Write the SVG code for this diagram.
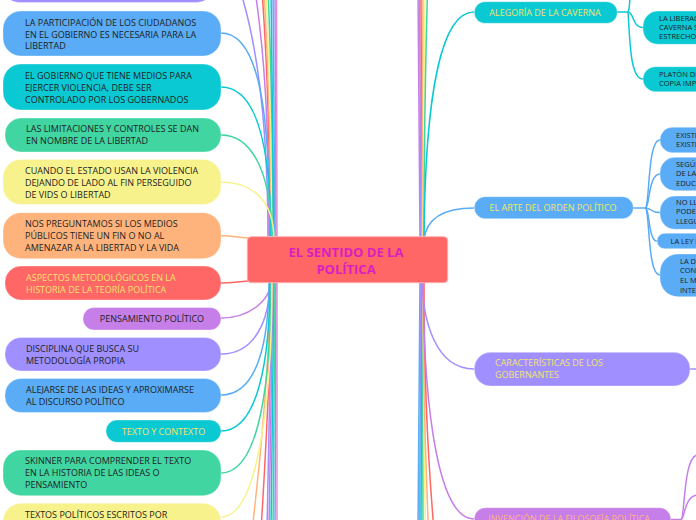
<svg xmlns="http://www.w3.org/2000/svg" width="696" height="520" viewBox="0 0 696 520">
<style>
text{font-family:"Open Sans","Noto Sans","DejaVu Sans",sans-serif;font-size:9px;fill:#1e1e1e}
.s{font-size:7.5px}
.y{fill:#f2e46c}
.o{fill:#ffb47c}
.c{font-size:13px;font-weight:bold;fill:#d91ec2;text-anchor:middle}
.m{text-anchor:middle}
.n{stroke:#ffffff;stroke-opacity:.35;stroke-width:1}
.lav{fill:#9f8fff}.blu{fill:#59acf5}.tea{fill:#0bc9d3}.gre{fill:#41d5a2}.yel{fill:#f8f28d}.ora{fill:#ffb37c}.red{fill:#ff6666}.pur{fill:#c67ee8}
#links path{fill:none;stroke-width:1.5}
.Llav{stroke:#9f8fff}.Lblu{stroke:#59acf5}.Ltea{stroke:#0bc9d3}.Lgre{stroke:#41d5a2}.Lyel{stroke:#f8f28d}.Lora{stroke:#ffb37c}.Lred{stroke:#ff6666}.Lpur{stroke:#c67ee8}.Lpin{stroke:#e58fd0}
</style>
<rect width="696" height="520" fill="#ffffff"/>
<g id="links">
<path class="Llav" d="M240,-10 C256,40 268,120 268,240"/>
<path class="Lpur" d="M255,-10 C264,50 269,120 269,240"/>
<path class="Lred" d="M262,-10 C267,60 270,140 270,240"/>
<path class="Lora" d="M264,-10 C268,60 271,140 271,240"/>
<path class="Lyel" d="M266,-10 C269,60 272,140 272,240"/>
<path class="Lgre" d="M268,-10 C271,60 273,140 273,240"/>
<path class="Ltea" d="M271,-10 L274,240"/>
<path class="Lblu" d="M273,-10 L275,240"/>
<path class="Llav" d="M275,-10 L276,240"/>
<path class="Lpin" d="M276.5,-10 L277,240"/>
<path class="Lora" d="M252,530 C262,450 270,350 270,280"/>
<path class="Lred" d="M261,530 C266,450 271,350 271,280"/>
<path class="Llav" d="M267,530 L272,280"/>
<path class="Lpur" d="M269,530 L273,280"/>
<path class="Ltea" d="M271,530 L274,280"/>
<path class="Lgre" d="M273,530 L275,280"/>
<path class="Lblu" d="M275,530 L276,280"/>
<path class="Lpin" d="M277,530 L277,280"/>
<path class="Lblu" d="M221,33 C261,33 270,120 270,240"/>
<path class="Ltea" d="M221,87 C258,87 271,150 271,240"/>
<path class="Lgre" d="M221,135 C255,135 272,180 272,240"/>
<path class="Lyel" d="M221,182 C252,182 274,200 274,240"/>
<path class="Lora" d="M221,235.7 C235,235.7 240,238 252,238"/>
<path class="Lred" d="M221,283 C235,283 240,281 252,281"/>
<path class="Lpur" d="M221,318 C250,318 271,300 271,280"/>
<path class="Llav" d="M221,354 C255,354 270,320 270,280"/>
<path class="Lblu" d="M221,395 C258,395 269,340 269,280"/>
<path class="Ltea" d="M221,431 C258,431 270,360 270,280"/>
<path class="Lgre" d="M221,473 C260,473 271,380 271,280"/>
<path class="Lyel" d="M221,517 C258,517 272,400 272,280"/>
<path class="Lpur" d="M418,-10 L420,240"/>
<path class="Llav" d="M419.5,-10 L421,240"/>
<path class="Lred" d="M421,-10 L422,240"/>
<path class="Lora" d="M423,-10 C423,80 422,160 422,240"/>
<path class="Lyel" d="M425,-10 C424,80 423,160 423,240"/>
<path class="Lgre" d="M427.5,-10 C425,80 424,160 424,240"/>
<path class="Lblu" d="M418,530 L420,280"/>
<path class="Llav" d="M419.5,530 L421,280"/>
<path class="Ltea" d="M421,530 L422,280"/>
<path class="Lgre" d="M423,530 L422.5,280"/>
<path class="Lyel" d="M425.5,530 C424,450 423,350 423,280"/>
<path class="Lora" d="M428.5,530 C425,450 423,350 423,280"/>
<path class="Lred" d="M434,530 C427,450 424,350 424,280"/>
<path class="Ltea" d="M474,12 C440,12 425,100 424,240"/>
<path class="Lblu" d="M474,208 C440,208 426,220 424,240"/>
<path class="Llav" d="M474,369 C435,369 423,320 422,280"/>
<path class="Lpur" d="M474,519 C440,519 424,420 423,280"/>
<path class="Ltea" d="M617,12 L628,12"/>
<path class="Ltea" d="M628,12 C630,8 630,2 630,-10"/>
<path class="Ltea" d="M628,12 C634,12 632,27.5 643,27.5"/>
<path class="Ltea" d="M628,12 C630,40 630,79 643,79"/>
<path class="Lblu" d="M633,208 L645,208"/>
<path class="Lblu" d="M645,208 C650,208 647,140 660,140"/>
<path class="Lblu" d="M645,208 C650,208 648,174 660,174"/>
<path class="Lblu" d="M645,208 C652,208 650,212.6 660,212.6"/>
<path class="Lblu" d="M645,208 C650,208 648,241 657,241"/>
<path class="Lblu" d="M645,208 C650,208 647,275 660,275"/>
<path class="Llav" d="M690,369 L700,369"/>
<path class="Lpur" d="M670,519.5 L681,519.5"/>
<path class="Lpur" d="M681,519.5 C685,519 683,455 698,455"/>
<path class="Lpur" d="M681,519.5 C685,519 684,495 698,495"/>
</g>

<g id="n-top"><rect class="n lav" x="3" y="-40" width="210" height="42.5" rx="16"/></g>
<g id="n-participacion"><rect class="n blu" x="3" y="11" width="218" height="45" rx="18"/>
<text x="25" y="26">LA PARTICIPACIÓN DE LOS CIUDADANOS</text><text x="25" y="37.5">EN EL GOBIERNO ES NECESARIA PARA LA</text><text x="25" y="49">LIBERTAD</text></g>
<g id="n-gobierno"><rect class="n tea" x="3" y="64" width="218" height="46" rx="18"/>
<text x="25" y="79">EL GOBIERNO QUE TIENE MEDIOS PARA</text><text x="25" y="91">EJERCER VIOLENCIA, DEBE SER</text><text x="25" y="103">CONTROLADO POR LOS GOBERNADOS</text></g>
<g id="n-limitaciones"><rect class="n gre" x="5" y="118" width="216" height="34" rx="16"/>
<text x="26" y="132.3">LAS LIMITACIONES Y CONTROLES SE DAN</text><text x="26" y="144">EN NOMBRE DE LA LIBERTAD</text></g>
<g id="n-cuando"><rect class="n yel" x="3" y="159.5" width="218" height="45" rx="18"/>
<text x="25" y="174.3">CUANDO EL ESTADO USAN LA VIOLENCIA</text><text x="25" y="186">DEJANDO DE LADO AL FIN PERSEGUIDO</text><text x="25" y="197.7">DE VIDS O LIBERTAD</text></g>
<g id="n-nos"><rect class="n ora" x="3" y="212.7" width="218" height="46" rx="18"/>
<text x="25" y="227.3">NOS PREGUNTAMOS SI LOS MEDIOS</text><text x="25" y="239.3">PÚBLICOS TIENE UN FIN O NO AL</text><text x="25" y="251">AMENAZAR A LA LIBERTAD Y LA VIDA</text></g>
<g id="n-aspectos"><rect class="n red" x="5" y="266" width="216" height="34" rx="16"/>
<text class="y" x="26" y="280.8">ASPECTOS METODOLÓGICOS EN LA</text><text class="y" x="26" y="293.2">HISTORIA DE LA TEORÍA POLÍTICA</text></g>
<g id="n-pensamiento"><rect class="n pur" x="83" y="307.5" width="138" height="22.5" rx="11"/>
<text class="m" x="152" y="321.5">PENSAMIENTO POLÍTICO</text></g>
<g id="n-disciplina"><rect class="n lav" x="5" y="337.5" width="216" height="33.5" rx="16"/>
<text x="26" y="351.5">DISCIPLINA QUE BUSCA SU</text><text x="26" y="364.2">METODOLOGÍA PROPIA</text></g>
<g id="n-alejarse"><rect class="n blu" x="5" y="378.5" width="216" height="34" rx="16"/>
<text x="26" y="393.3">ALEJARSE DE LAS IDEAS Y APROXIMARSE</text><text x="26" y="405">AL DISCURSO POLÍTICO</text></g>
<g id="n-texto"><rect class="n tea" x="106" y="420" width="115" height="22.3" rx="11"/>
<text class="m y" x="163.5" y="435">TEXTO Y CONTEXTO</text></g>
<g id="n-skinner"><rect class="n gre" x="3" y="450" width="218" height="45.7" rx="18"/>
<text x="25" y="464">SKINNER PARA COMPRENDER EL TEXTO</text><text x="25" y="476">EN LA HISTORIA DE LAS IDEAS O</text><text x="25" y="487.7">PENSAMIENTO</text></g>
<g id="n-textos"><rect class="n yel" x="3" y="503.3" width="218" height="45" rx="18"/>
<text x="25" y="517.7">TEXTOS POLÍTICOS ESCRITOS POR</text></g>

<g id="n-center"><rect x="247.3" y="236.7" width="200.4" height="46" rx="4" fill="#ff6666" stroke="#ffb0b0" stroke-width="1"/>
<text class="c" x="346" y="256.5">EL SENTIDO DE LA</text><text class="c" x="346" y="274">POLÍTICA</text></g>

<g id="n-alegoria"><rect class="n tea" x="474.3" y="1.7" width="143" height="21.6" rx="10.8"/>
<text class="m y" x="545" y="15.7">ALEGORÍA DE LA CAVERNA</text></g>
<g id="n-liberac"><rect class="n tea" x="643" y="11" width="80" height="33.3" rx="15"/>
<text class="s" x="659" y="20.7">LA LIBERAC</text><text class="s" x="659" y="30">CAVERNA S</text><text class="s" x="659" y="39.3">ESTRECHO</text></g>
<g id="n-platon"><rect class="n tea" x="643" y="66.7" width="80" height="25" rx="12.5"/>
<text class="s" x="659" y="76.7">PLATÓN DIC</text><text class="s" x="659" y="86">COPIA IMP</text></g>

<g id="n-arte"><rect class="n blu" x="474.3" y="196.7" width="159" height="22" rx="11"/>
<text class="m y" x="553" y="210.7">EL ARTE DEL ORDEN POLÍTICO</text></g>
<g id="n-existe"><rect class="n blu" x="660" y="127.3" width="60" height="25.4" rx="12.5"/>
<text class="s" x="676" y="137.7">EXISTE</text><text class="s" x="676" y="146.7">EXISTE</text></g>
<g id="n-segun"><rect class="n blu" x="660" y="157.3" width="60" height="33.4" rx="15"/>
<text class="s" x="676" y="166.7">SEGÚN</text><text class="s" x="676" y="176">DE LA</text><text class="s" x="676" y="185.7">EDUCA</text></g>
<g id="n-nolle"><rect class="n blu" x="660" y="196" width="60" height="33.3" rx="15"/>
<text class="s" x="676" y="205.3">NO LL</text><text class="s" x="676" y="214.3">PODER</text><text class="s" x="676" y="224.3">LLEGU</text></g>
<g id="n-ley"><rect class="n blu" x="657" y="233.3" width="60" height="15.4" rx="7.7"/>
<text class="s" x="670.5" y="243.6">LA LEY N</text></g>
<g id="n-lad"><rect class="n blu" x="660" y="254" width="60" height="42.7" rx="18"/>
<text class="s" x="680" y="264">LA D</text><text class="s" x="680" y="273.3">CONT</text><text class="s" x="680" y="283.3">EL M</text><text class="s" x="680" y="292.7">INTE</text></g>

<g id="n-caracteristicas"><rect class="n lav" x="474.3" y="352.3" width="215.7" height="33.7" rx="16"/>
<text class="y" x="495" y="366">CARACTERÍSTICAS DE LOS</text><text class="y" x="495" y="378.3">GOBERNANTES</text></g>
<g id="n-invencion"><rect class="n pur" x="474.3" y="507.7" width="196.4" height="24" rx="11"/>
<text class="o" x="488.3" y="522">INVENCIÓN DE LA FILOSOFÍA POLÍTICA</text></g>
</svg>
